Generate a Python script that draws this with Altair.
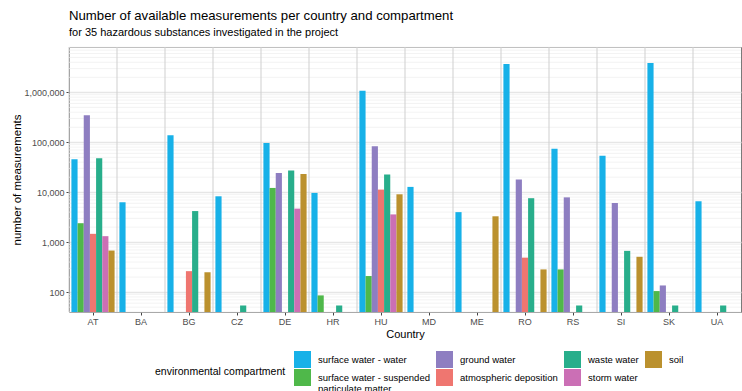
import altair as alt
import pandas as pd

# Countries along the x axis
countries = ["AT", "BA", "BG", "CZ", "DE", "HR", "HU", "MD", "ME", "RO", "RS", "SI", "SK", "UA"]

# Number of measurements per compartment (None = no data)
sw_water = [46000, 6300, 138000, 8300, 97000, 9700, 1080000, 12800, 4000, 3700000, 74000, 54000, 3870000, 6600]
sw_spm = [2400, None, None, None, 12200, 86, 210, None, None, None, 285, None, 105, None]
ground_water = [347000, None, None, None, 24400, None, 83000, None, None, 17900, 7900, 6100, 136, None]
atm_deposition = [1470, None, 263, None, None, None, 11300, None, None, 490, None, None, None, None]
waste_water = [47900, None, 4200, 54, 27200, 54, 22600, None, None, 7600, 54, 670, 54, 54]
storm_water = [1320, None, None, None, 4700, None, 3600, None, None, None, None, None, None, None]
soil = [680, None, 250, None, 23300, None, 9100, None, 3300, 285, None, 510, None, None]

compartments = [
    "surface water - water",
    "surface water - suspended particulate matter",
    "ground water",
    "atmospheric deposition",
    "waste water",
    "storm water",
    "soil",
]
series = [sw_water, sw_spm, ground_water, atm_deposition, waste_water, storm_water, soil]
colors = ["#17B1E8", "#4FB84A", "#8E7EC1", "#EF7670", "#28AE8B", "#CB6FB5", "#BB912E"]

# legend is filled column-wise in two rows
legend_order = [0, 2, 4, 6, 1, 3, 5]
legend_domain = [compartments[i] for i in legend_order]
legend_range = [colors[i] for i in legend_order]

Y_MIN, Y_MAX = 40, 8.1e6
y_major = [100, 1000, 10000, 100000, 1000000]
y_minor = [m * 10 ** k for k in range(1, 7) for m in range(2, 10) if Y_MIN <= m * 10 ** k <= Y_MAX]

rows = []
for comp, vals in zip(compartments, series):
    for c, v in zip(countries, vals):
        if v is not None:
            rows.append({"country": c, "compartment": comp, "n": v})
df = pd.DataFrame(rows)

FONT = "Liberation Sans"
yscale = alt.Scale(type="log", domain=[Y_MIN, Y_MAX], nice=False)
xscale = alt.Scale(paddingInner=0, paddingOuter=0)

minor = alt.Chart(pd.DataFrame({"v": y_minor})).mark_rule(
    color="#F0F0F0", strokeWidth=0.8
).encode(y=alt.Y("v:Q", scale=yscale, axis=None))

separators = alt.Chart(pd.DataFrame({"country": countries})).mark_rule(
    color="#CFCFCF", strokeWidth=1
).encode(x=alt.X("country:N", sort=countries, scale=xscale, bandPosition=0, axis=None))

bars = alt.Chart(df).mark_bar().encode(
    x=alt.X(
        "country:N",
        sort=countries,
        scale=xscale,
        axis=alt.Axis(
            title="Country", orient="bottom", labelAngle=0, grid=False, ticks=True, tickSize=3,
            tickColor="#444", domain=False, labelPadding=2, labelFontSize=9,
            labelColor="#4D4D4D", titleFontSize=11, titleFontWeight="normal",
            titleColor="#000", titlePadding=2,
        ),
    ),
    xOffset=alt.XOffset(
        "compartment:N", sort=compartments,
        scale=alt.Scale(domain=compartments, paddingInner=0, paddingOuter=0.39),
    ),
    y=alt.Y(
        "n:Q",
        scale=yscale,
        axis=alt.Axis(
            title="number of measurements", orient="left", values=y_major, format=",",
            grid=True, gridColor="#E6E6E6", gridWidth=1.4, ticks=True, tickSize=3,
            tickColor="#444", domain=False, labelPadding=2, labelFontSize=9,
            labelColor="#4D4D4D", titleFontSize=11.5, titleFontWeight="normal",
            titleColor="#000", titlePadding=1,
        ),
    ),
    # bars rise from the bottom of the log axis
    y2=alt.datum(Y_MIN),
    color=alt.Color(
        "compartment:N",
        scale=alt.Scale(domain=legend_domain, range=legend_range),
        legend=alt.Legend(
            title="environmental compartment", orient="none", legendX=86, legendY=304,
            direction="horizontal", columns=4, titleOrient="left", titleAnchor="middle",
            titleBaseline="middle", titleFontSize=10.5, titleFontWeight="normal",
            titleColor="#000", titlePadding=8,
            symbolType="square", symbolSize=289, symbolStrokeWidth=0, symbolOpacity=1,
            labelFontSize=9.5, labelColor="#000", labelOffset=7, columnPadding=6,
            rowPadding=1, labelLimit=200,
            labelExpr="datum.label == 'surface water - suspended particulate matter' ? ['surface water - suspended', 'particulate matter'] : datum.label",
        ),
    ),
)

chart = (
    alt.layer(minor, separators, bars)
    .resolve_axis(x="independent", y="independent")
    .properties(
        width=672,
        height=265,
        autosize=alt.AutoSizeParams(type="none"),
        padding={"left": 69, "top": 47, "right": 1, "bottom": 79},
        title=alt.TitleParams(
            text="Number of available measurements per country and compartment",
            subtitle="for 35 hazardous substances investigated in the project",
            anchor="start", frame="group", fontSize=13.2, fontWeight="normal",
            subtitleFontSize=11, color="#000", subtitleColor="#000",
            font=FONT, subtitleFont=FONT, offset=8, subtitlePadding=3,
        ),
    )
    .configure(font=FONT)
    .configure_view(stroke="#7A7A7A", strokeWidth=1)
)

chart.save("out.html", embed_options={"renderer": "svg", "actions": False})
